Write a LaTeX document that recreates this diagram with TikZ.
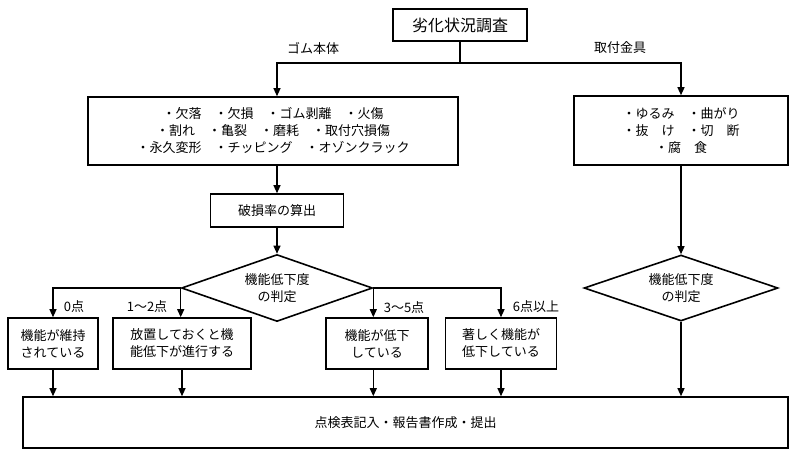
\documentclass[tikz,border=0pt]{standalone}
\usepackage{fontspec}
\setmainfont{Noto Sans CJK JP}
\usetikzlibrary{shapes.geometric,arrows.meta}

\begin{document}
\begin{tikzpicture}[x=1pt,y=-1pt,
  box/.style={draw, rectangle, line width=1.6pt, inner sep=0pt, align=center,
    font=\fontsize{13}{17}\selectfont},
  decide/.style={draw, diamond, aspect=2.9, line width=1.6pt, inner sep=0pt, align=center,
    font=\fontsize{13}{17}\selectfont},
  arr/.style={-{Triangle[length=8pt,width=7pt]}, line width=1.2pt},
  lbl/.style={font=\fontsize{13}{16}\selectfont}]
\useasboundingbox (0,0) rectangle (800,464);

% Start
\node[box, minimum width=134, minimum height=32, font=\fontsize{16}{19}\selectfont] (survey) at (460,25) {劣化状況調査};
\coordinate (fork) at (460,63);

% Rubber body
\node[box, minimum width=370, minimum height=68] (rubber) at (273,131)
  {・欠落　・欠損　・ゴム剥離　・火傷\\・割れ　・亀裂　・磨耗　・取付穴損傷\\・永久変形　・チッピング　・オゾンクラック};
\node[box, minimum width=133, minimum height=33] (rate) at (277,210.5) {破損率の算出};
\node[decide, minimum width=191, minimum height=67] (judge) at (277,288) {機能低下度\\の判定};

% Fittings
\node[box, minimum width=214, minimum height=69] (metal) at (681,130.5)
  {・ゆるみ　・曲がり\\・抜　け　・切　断\\・腐　食};
\node[decide, minimum width=194, minimum height=66] (judge2) at (681,288) {機能低下度\\の判定};

% Results
\node[box, minimum width=90, minimum height=51] (ok) at (53,343.5) {機能が維持\\されている};
\node[box, minimum width=138, minimum height=51] (keep) at (182,343.5) {放置しておくと機\\能低下が進行する};
\node[box, minimum width=102, minimum height=51] (low) at (377,343.5) {機能が低下\\している};
\node[box, minimum width=111, minimum height=51] (severe) at (501,343.5) {著しく機能が\\低下している};

% End
\node[box, minimum width=765, minimum height=51] (report) at (405.5,422.5) {点検表記入・報告書作成・提出};

% Labels
\node[lbl] (lrubber) at (313,48) {ゴム本体};
\node[lbl] (lmetal) at (620,48) {取付金具};
\node[lbl] (l0) at (74,307) {0点};
\node[lbl] (l12) at (147,307) {1～2点};
\node[lbl] (l35) at (404,308) {3～5点};
\node[lbl] (l6) at (536,307) {6点以上};

% Connectors
\draw[line width=1.2pt] (survey) -- (fork);
\draw[arr] (fork) -| (rate |- rubber.north);
\draw[arr] (fork) -| (metal.north);
\draw[arr] (rate |- rubber.south) -- (rate);
\draw[arr] (rate) -- (judge);
\draw[arr] (metal) -- (judge2);
\draw[arr] (judge.west) -| (ok.north);
\draw[arr] (judge.west) -- (judge.west |- keep.north);
\draw[arr] (judge.east) -- (judge.east |- low.north);
\draw[arr] (judge.east) -| (severe.north);
\draw[arr] (ok) -- (ok |- report.north);
\draw[arr] (keep) -- (keep |- report.north);
\draw[arr] (judge.east |- low.south) -- (judge.east |- report.north);
\draw[arr] (severe) -- (severe |- report.north);
\draw[arr] (judge2) -- (judge2 |- report.north);
\end{tikzpicture}
\end{document}
